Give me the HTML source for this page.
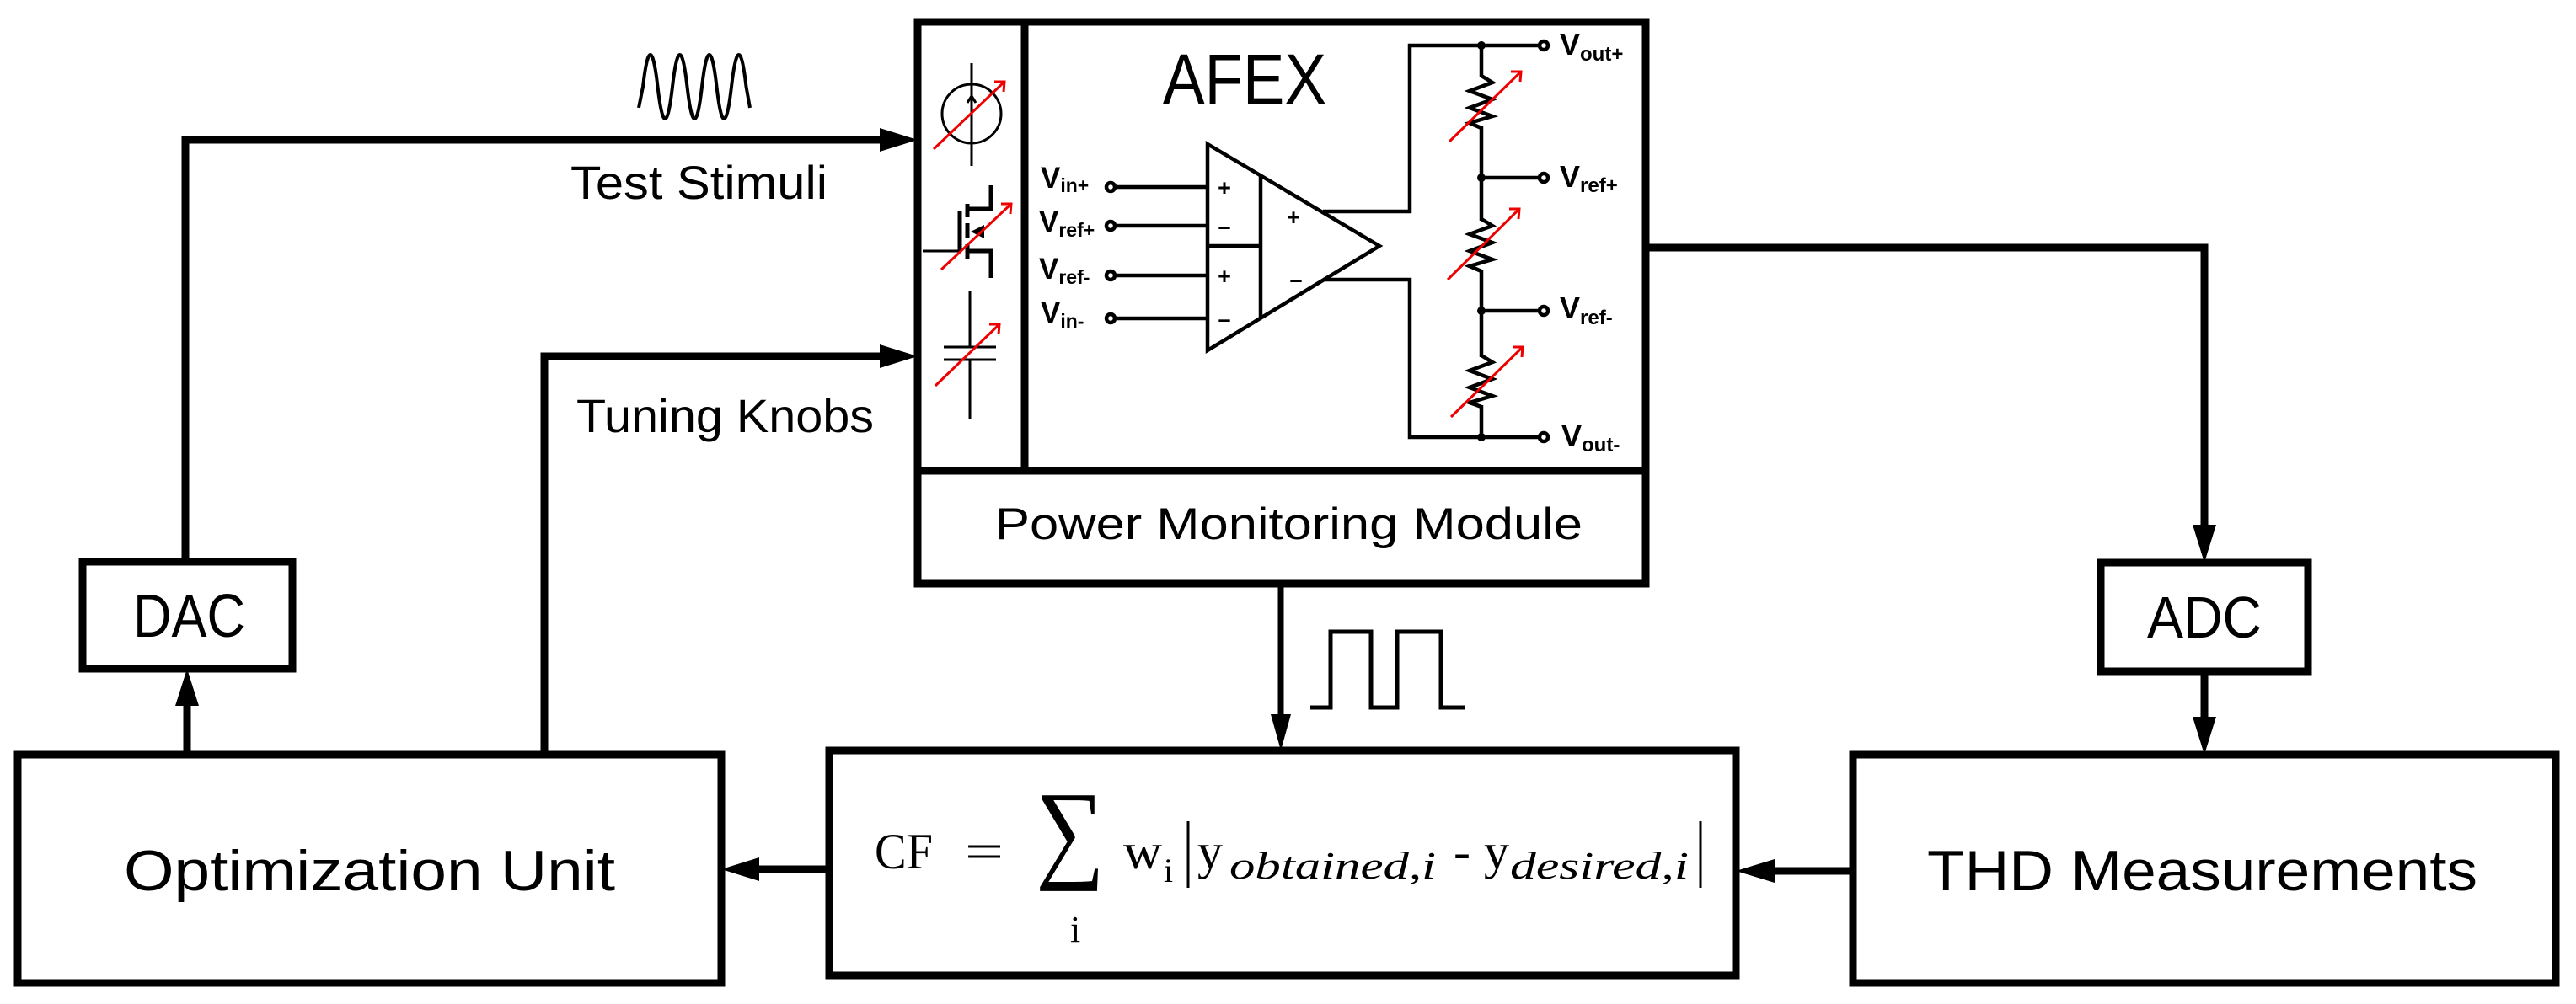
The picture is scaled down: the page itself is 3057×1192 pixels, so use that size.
<!DOCTYPE html>
<html><head><meta charset="utf-8"><style>
html,body{margin:0;padding:0;background:#fff;}
svg{display:block;}
.s{font-family:"Liberation Sans",sans-serif;}
.b{font-family:"Liberation Sans",sans-serif;font-weight:bold;}
.m{font-family:"Liberation Serif",serif;}
</style></head><body>
<svg width="3057" height="1192" viewBox="0 0 3057 1192" xmlns="http://www.w3.org/2000/svg">
<rect width="3057" height="1192" fill="#fff"/>
<g fill="none" stroke="#000" stroke-width="9">
  <rect x="1089" y="26" width="864" height="667"/>
  <line x1="1216" y1="26" x2="1216" y2="559"/>
  <line x1="1089" y1="559" x2="1953" y2="559"/>
  <rect x="98" y="667" width="249" height="127"/>
  <rect x="21" y="896" width="835" height="271"/>
  <rect x="984" y="891" width="1076" height="267"/>
  <rect x="2199" y="896" width="834" height="271"/>
  <rect x="2493" y="668" width="246" height="129"/>
  <polyline points="220,667 220,166 1046,166"/>
  <polyline points="646,896 646,423 1046,423"/>
  <line x1="222" y1="896" x2="222" y2="834"/>
  <line x1="984" y1="1032" x2="898" y2="1032"/>
  <polyline points="1953,294 2616,294 2616,626"/>
  <line x1="2616" y1="797" x2="2616" y2="854"/>
  <line x1="2199" y1="1034" x2="2105" y2="1034"/>
</g>
<line x1="1520" y1="693" x2="1520" y2="852" stroke="#000" stroke-width="7"/>
<g fill="#000">
  <polygon points="1089,166 1044,152 1044,180"/>
  <polygon points="1089,423 1044,409 1044,437"/>
  <polygon points="222,794 208,838 236,838"/>
  <polygon points="856,1032 901,1018 901,1046"/>
  <polygon points="2616,668 2602,623 2630,623"/>
  <polygon points="2616,896 2602,851 2630,851"/>
  <polygon points="2060,1034 2106,1020 2106,1048"/>
  <polygon points="1520,891 1508,848 1532,848"/>
</g>
<path d="M758,128 L763,103 Q771.75,27 780.5,103 Q789.25,179 798,103 Q806.75,27 815.5,103 Q824.25,179 833,103 Q841.75,27 850.5,103 Q859.25,179 868,103 Q876.75,27 885.5,103 L890,128" fill="none" stroke="#000" stroke-width="4"/>
<polyline points="1555,840 1579,840 1579,750 1627,750 1627,840 1658,840 1658,750 1710,750 1710,840 1738,840" fill="none" stroke="#000" stroke-width="5"/>
<text class="s" x="677" y="236" font-size="56" textLength="305" lengthAdjust="spacingAndGlyphs">Test Stimuli</text>
<text class="s" x="684" y="513" font-size="56" textLength="353" lengthAdjust="spacingAndGlyphs">Tuning Knobs</text>
<text class="s" x="158" y="756" font-size="72" textLength="133" lengthAdjust="spacingAndGlyphs">DAC</text>
<text class="s" x="2548" y="757" font-size="70" textLength="136" lengthAdjust="spacingAndGlyphs">ADC</text>
<text class="s" x="147" y="1057" font-size="68" textLength="583" lengthAdjust="spacingAndGlyphs">Optimization Unit</text>
<text class="s" x="2287" y="1057" font-size="68" textLength="653" lengthAdjust="spacingAndGlyphs">THD Measurements</text>
<text class="s" x="1380" y="123" font-size="84" textLength="194" lengthAdjust="spacingAndGlyphs">AFEX</text>
<text class="s" x="1181" y="640" font-size="53" textLength="697" lengthAdjust="spacingAndGlyphs">Power Monitoring Module</text>
<g class="m" fill="#000">
  <text x="1038" y="1031" font-size="60" textLength="69" lengthAdjust="spacingAndGlyphs">CF</text>
  <text x="1145" y="1031" font-size="60" textLength="46" lengthAdjust="spacingAndGlyphs">=</text>
  <text x="1229" y="1030" font-size="131" textLength="82" lengthAdjust="spacingAndGlyphs">∑</text>
  <text x="1270" y="1118" font-size="44">i</text>
  <text x="1333" y="1031" font-size="60" textLength="46" lengthAdjust="spacingAndGlyphs">w</text>
  <text x="1381" y="1047" font-size="40">i</text>
  <text x="1421" y="1031" font-size="60">y</text>
  <text x="1459" y="1043" font-size="46" font-style="italic" textLength="245" lengthAdjust="spacingAndGlyphs">obtained,i</text>
  <text x="1725" y="1031" font-size="60">-</text>
  <text x="1761" y="1031" font-size="60">y</text>
  <text x="1792" y="1043" font-size="46" font-style="italic" textLength="212" lengthAdjust="spacingAndGlyphs">desired,i</text>
</g>
<line x1="1410" y1="975" x2="1410" y2="1054" stroke="#000" stroke-width="3"/>
<line x1="2018" y1="975" x2="2018" y2="1054" stroke="#000" stroke-width="3"/>
<g fill="none" stroke="#000" stroke-width="4.5">
  <polygon points="1433,171 1637,292 1433,416"/>
  <line x1="1496" y1="208" x2="1496" y2="379"/>
  <line x1="1433" y1="292" x2="1496" y2="292"/>
  <line x1="1323" y1="222" x2="1433" y2="222"/>
  <line x1="1323" y1="268" x2="1433" y2="268"/>
  <line x1="1323" y1="327" x2="1433" y2="327"/>
  <line x1="1323" y1="378" x2="1433" y2="378"/>
  <circle cx="1318" cy="222" r="5"/>
  <circle cx="1318" cy="268" r="5"/>
  <circle cx="1318" cy="327" r="5"/>
  <circle cx="1318" cy="378" r="5"/>
  <polyline points="1570,251 1673,251 1673,54 1827,54"/>
  <polyline points="1570,332 1673,332 1673,519 1827,519"/>
  <line x1="1758" y1="54" x2="1758" y2="519"/>
  <line x1="1758" y1="211" x2="1827" y2="211"/>
  <line x1="1758" y1="369" x2="1827" y2="369"/>
  <circle cx="1832" cy="54" r="5"/>
  <circle cx="1832" cy="211" r="5"/>
  <circle cx="1832" cy="369" r="5"/>
  <circle cx="1832" cy="519" r="5"/>
</g>
<g fill="#fff" stroke="none">
  <rect x="1745" y="92" width="26" height="58"/>
  <rect x="1745" y="262" width="26" height="58"/>
  <rect x="1745" y="424" width="26" height="57"/>
</g>
<g fill="none" stroke="#000" stroke-width="4.5" stroke-linejoin="miter">
  <polyline points="1758,90 1771,98 1744,108 1771,118 1744,128 1771,138 1744,146 1758,152"/>
  <polyline points="1758,260 1771,268 1744,278 1771,288 1744,298 1771,308 1744,316 1758,322"/>
  <polyline points="1758,422 1771,430 1744,440 1771,450 1744,460 1771,470 1744,478 1758,483"/>
</g>
<g fill="#000">
  <circle cx="1758" cy="54" r="5"/><circle cx="1758" cy="211" r="5"/>
  <circle cx="1758" cy="369" r="5"/><circle cx="1758" cy="519" r="5"/>
</g>
<g class="b" fill="#000" font-size="27">
  <text x="1453" y="232" text-anchor="middle">+</text>
  <text x="1453" y="278" text-anchor="middle">–</text>
  <text x="1453" y="337" text-anchor="middle">+</text>
  <text x="1453" y="388" text-anchor="middle">–</text>
  <text x="1535" y="267" text-anchor="middle">+</text>
  <text x="1538" y="341" text-anchor="middle">–</text>
</g>
<g class="b" fill="#000">
  <text x="1235" y="223" font-size="35">V<tspan font-size="23" dy="5">in+</tspan></text>
  <text x="1233" y="275" font-size="35">V<tspan font-size="23" dy="6">ref+</tspan></text>
  <text x="1233" y="331" font-size="35">V<tspan font-size="23" dy="6">ref-</tspan></text>
  <text x="1235" y="383" font-size="35">V<tspan font-size="23" dy="6">in-</tspan></text>
  <text x="1851" y="65" font-size="36">V<tspan font-size="24" dy="7">out+</tspan></text>
  <text x="1851" y="222" font-size="36">V<tspan font-size="24" dy="6">ref+</tspan></text>
  <text x="1851" y="378" font-size="36">V<tspan font-size="24" dy="7">ref-</tspan></text>
  <text x="1853" y="530" font-size="36">V<tspan font-size="24" dy="6">out-</tspan></text>
</g>
<g fill="none" stroke="#000" stroke-width="3">
  <circle cx="1153" cy="135" r="35"/>
  <line x1="1153" y1="75" x2="1153" y2="197"/>
  <polyline points="1148,122 1153,114 1158,122"/>
  <line x1="1095" y1="298" x2="1139" y2="298"/>
</g>
<g fill="none" stroke="#000" stroke-width="5">
  <line x1="1139" y1="250" x2="1139" y2="298"/>
  <line x1="1148" y1="242" x2="1148" y2="258"/>
  <line x1="1148" y1="265" x2="1148" y2="283"/>
  <line x1="1148" y1="290" x2="1148" y2="308"/>
  <polyline points="1148,248 1176,248 1176,220"/>
  <polyline points="1148,298 1176,298 1176,330"/>
</g>
<polygon points="1152,275 1168,267 1168,283" fill="#000"/>
<g fill="none" stroke="#000" stroke-width="3">
  <line x1="1151" y1="345" x2="1151" y2="412"/>
  <line x1="1151" y1="427" x2="1151" y2="497"/>
  <line x1="1120" y1="412" x2="1182" y2="412"/>
  <line x1="1120" y1="427" x2="1182" y2="427"/>
</g>
<g fill="none" stroke="#e00" stroke-width="3">
  <line x1="1108" y1="177" x2="1192" y2="97"/><polyline points="1180,97 1192,97 1191,109"/>
  <line x1="1117" y1="320" x2="1200" y2="242"/><polyline points="1188,242 1200,242 1199,254"/>
  <line x1="1110" y1="458" x2="1186" y2="385"/><polyline points="1174,385 1186,385 1185,397"/>
  <line x1="1720" y1="168" x2="1805" y2="85"/><polyline points="1793,85 1805,85 1804,97"/>
  <line x1="1718" y1="332" x2="1803" y2="248"/><polyline points="1791,248 1803,248 1802,260"/>
  <line x1="1722" y1="495" x2="1807" y2="412"/><polyline points="1795,412 1807,412 1806,424"/>
</g>
</svg>
</body></html>
